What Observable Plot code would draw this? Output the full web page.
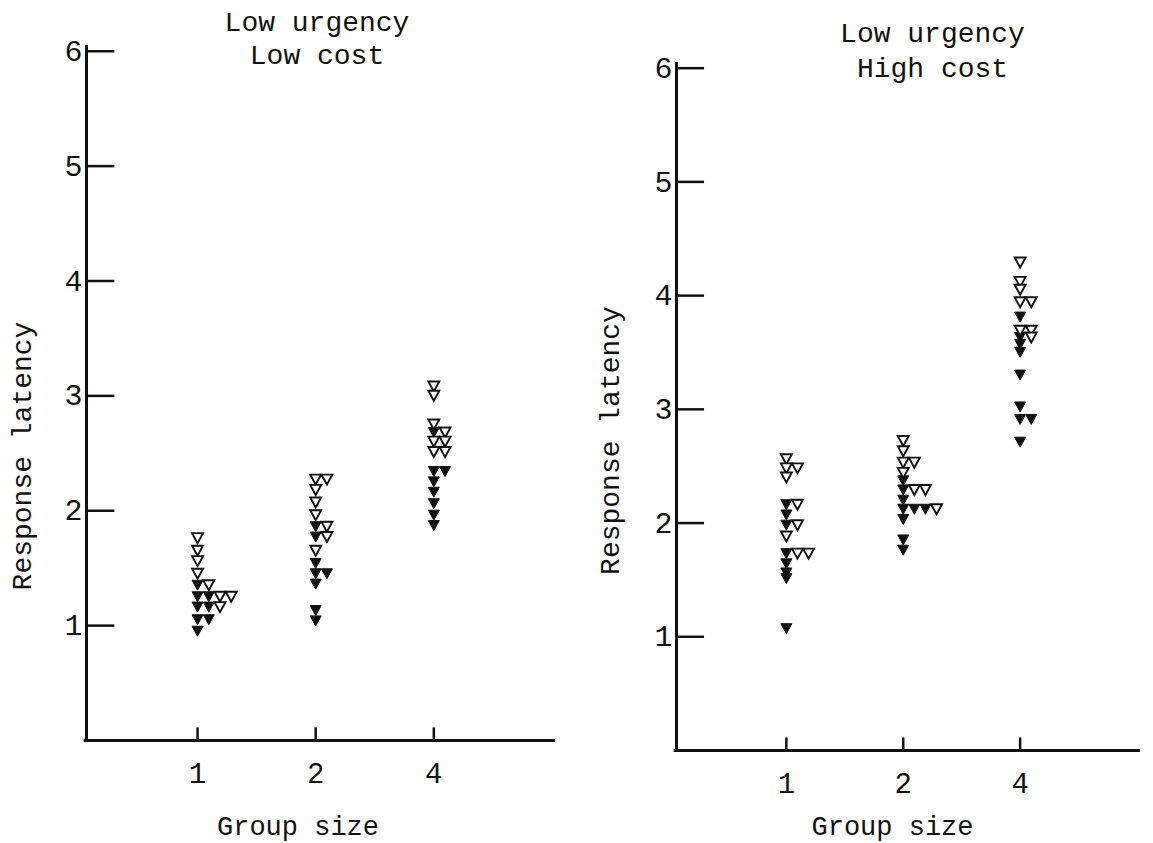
<!DOCTYPE html>
<html>
<head>
<meta charset="utf-8">
<script src="https://cdn.jsdelivr.net/npm/d3@7"></script>
<script src="https://cdn.jsdelivr.net/npm/@observablehq/plot@0.6"></script>
<style>
  html, body { margin: 0; padding: 0; background: #fff; }
  #wrap { position: relative; width: 1153px; height: 843px; background: #fff; overflow: hidden; }
  #wrap > svg, #wrap > figure { position: absolute; top: 0; margin: 0; }
  #wrap text { font-family: 'Liberation Mono', 'DejaVu Sans Mono', monospace !important; font-variant: normal !important; }
</style>
</head>
<body>
<div id="wrap"></div>
<script>
// ---- Data ----
const groupLabels = ["1", "2", "4"];          // group size categories (positions 1,2,3)
const yTicks = [1, 2, 3, 4, 5, 6];            // response latency ticks
const leftTitle = ["Low urgency", "Low cost"];
const rightTitle = ["Low urgency", "High cost"];
const xLabel = "Group size";
const yLabel = "Response latency";

// Left panel: Low urgency / Low cost
const lowCostG1Open   = [1.77, 1.66, 1.57, 1.46, 1.36, 1.26, 1.26, 1.17];
const lowCostG1Filled = [1.36, 1.26, 1.26, 1.17, 1.17, 1.06, 1.06, 0.96];
const lowCostG2Open   = [2.28, 2.28, 2.19, 2.08, 1.97, 1.87, 1.78, 1.66];
const lowCostG2Filled = [1.87, 1.78, 1.55, 1.46, 1.46, 1.37, 1.14, 1.05];
const lowCostG4Open   = [3.09, 3.01, 2.76, 2.69, 2.61, 2.61, 2.52, 2.52];
const lowCostG4Filled = [2.69, 2.35, 2.35, 2.26, 2.17, 2.07, 1.97, 1.88];

// Right panel: Low urgency / High cost
const highCostG1Open   = [2.57, 2.49, 2.49, 2.41, 2.17, 1.99, 1.89, 1.74, 1.74];
const highCostG1Filled = [2.17, 2.08, 1.99, 1.74, 1.65, 1.57, 1.52, 1.08];
const highCostG2Open   = [2.73, 2.64, 2.54, 2.54, 2.45, 2.30, 2.30, 2.13];
const highCostG2Filled = [2.38, 2.30, 2.21, 2.13, 2.13, 2.13, 2.04, 1.86, 1.77];
const highCostG4Open   = [4.30, 4.13, 4.06, 3.95, 3.95, 3.70, 3.70, 3.64];
const highCostG4Filled = [3.82, 3.64, 3.58, 3.51, 3.31, 3.03, 2.92, 2.92, 2.72];

// ---- Styling constants ----
const FONT = "Liberation Mono";
const INK = "#111";
const xDomain = [0.06, 4.03];
const slotStep = 0.095;   // horizontal spacing of tied values (x units)

// downward-pointing triangle symbol
const triDown = {
  draw(ctx, size) {
    const r = Math.sqrt(size / Math.PI);
    const w = r * 1.1;
    ctx.moveTo(-w, -r * 0.8);
    ctx.lineTo(w, -r * 0.8);
    ctx.lineTo(0, r * 1.2);
    ctx.closePath();
  }
};

function layout(groups) {
  const out = [];
  groups.forEach(([openVals, filledVals], gi) => {
    const counts = new Map();
    for (const [type, vals] of [["filled", filledVals], ["open", openVals]]) {
      for (const v of vals) {
        const k = v.toFixed(2);
        const s = counts.get(k) ?? 0;
        counts.set(k, s + 1);
        out.push({g: gi + 1, value: v, type, slot: s});
      }
    }
  });
  return out;
}

function panel({data, title, width, height, marginLeft, marginRight, marginTop, marginBottom, yTop,
                 titleDx, titleDy1, titleDy2, xLabDx, xLabDy, yLabDx, yLabDy}) {
  return Plot.plot({
    width, height, marginLeft, marginRight, marginTop, marginBottom,
    style: {fontFamily: FONT, color: INK, background: "#fff", overflow: "visible"},
    x: {domain: xDomain, axis: null},
    y: {domain: [0, yTop], axis: null},
    marks: [
      Plot.ruleX([xDomain[0]], {y1: 0, y2: yTop, stroke: INK, strokeWidth: 3}),
      Plot.ruleY([0], {x1: xDomain[0] - 0.02, x2: xDomain[1], stroke: INK, strokeWidth: 3}),
      Plot.ruleY(yTicks, {x1: xDomain[0], x2: xDomain[0] + 0.24, stroke: INK, strokeWidth: 2.5}),
      Plot.ruleX([1, 2, 3], {y1: 0, y2: 0.11, stroke: INK, strokeWidth: 2.5}),
      // y tick labels
      Plot.text(yTicks, {y: d => d, frameAnchor: "left", textAnchor: "end", dx: -4,
                         text: d => String(d), fontSize: 30, fontFamily: FONT, fill: INK}),
      // x tick labels
      Plot.text([1, 2, 3], {x: d => d, frameAnchor: "bottom", lineAnchor: "top", dy: 22,
                            text: d => groupLabels[d - 1], fontSize: 29, fontFamily: FONT, fill: INK}),
      Plot.dot(data, {
        x: d => d.g + d.slot * slotStep,
        y: "value",
        symbol: triDown,
        r: 5,
        fill: d => d.type === "filled" ? INK : "#fff",
        stroke: INK,
        strokeWidth: d => d.type === "filled" ? 1 : 1.9
      }),
      Plot.text([title[0]], {frameAnchor: "top", dx: titleDx, dy: titleDy1, lineAnchor: "middle",
                             fontSize: 28, fontFamily: FONT, fill: INK}),
      Plot.text([title[1]], {frameAnchor: "top", dx: titleDx, dy: titleDy2, lineAnchor: "middle",
                             fontSize: 28, fontFamily: FONT, fill: INK}),
      Plot.text([xLabel], {frameAnchor: "bottom", dx: xLabDx, dy: xLabDy, lineAnchor: "middle",
                           fontSize: 27, fontFamily: FONT, fill: INK}),
      Plot.text([yLabel], {frameAnchor: "left", rotate: -90, textAnchor: "middle", dx: yLabDx, dy: yLabDy,
                           lineAnchor: "middle", fontSize: 28, fontFamily: FONT, fill: INK})
    ]
  });
}

const leftData = layout([
  [lowCostG1Open, lowCostG1Filled],
  [lowCostG2Open, lowCostG2Filled],
  [lowCostG4Open, lowCostG4Filled]
]);
const rightData = layout([
  [highCostG1Open, highCostG1Filled],
  [highCostG2Open, highCostG2Filled],
  [highCostG4Open, highCostG4Filled]
]);

const wrap = document.getElementById("wrap");

const left = panel({
  data: leftData, title: leftTitle,
  width: 576, height: 843, marginLeft: 86, marginRight: 21, marginTop: 45, marginBottom: 103,
  yTop: 6.05,
  titleDx: -4, titleDy1: -23, titleDy2: 10,
  xLabDx: -23, xLabDy: 86, yLabDx: -64, yLabDy: 63
});
left.style.left = "0px";
wrap.appendChild(left);

const right = panel({
  data: rightData, title: rightTitle,
  width: 577, height: 843, marginLeft: 100, marginRight: 13, marginTop: 62, marginBottom: 93,
  yTop: 6.05,
  titleDx: 24, titleDy1: -29, titleDy2: 6,
  xLabDx: -16, xLabDy: 76, yLabDx: -66, yLabDy: 34
});
right.style.left = "576px";
wrap.appendChild(right);
</script>
</body>
</html>
